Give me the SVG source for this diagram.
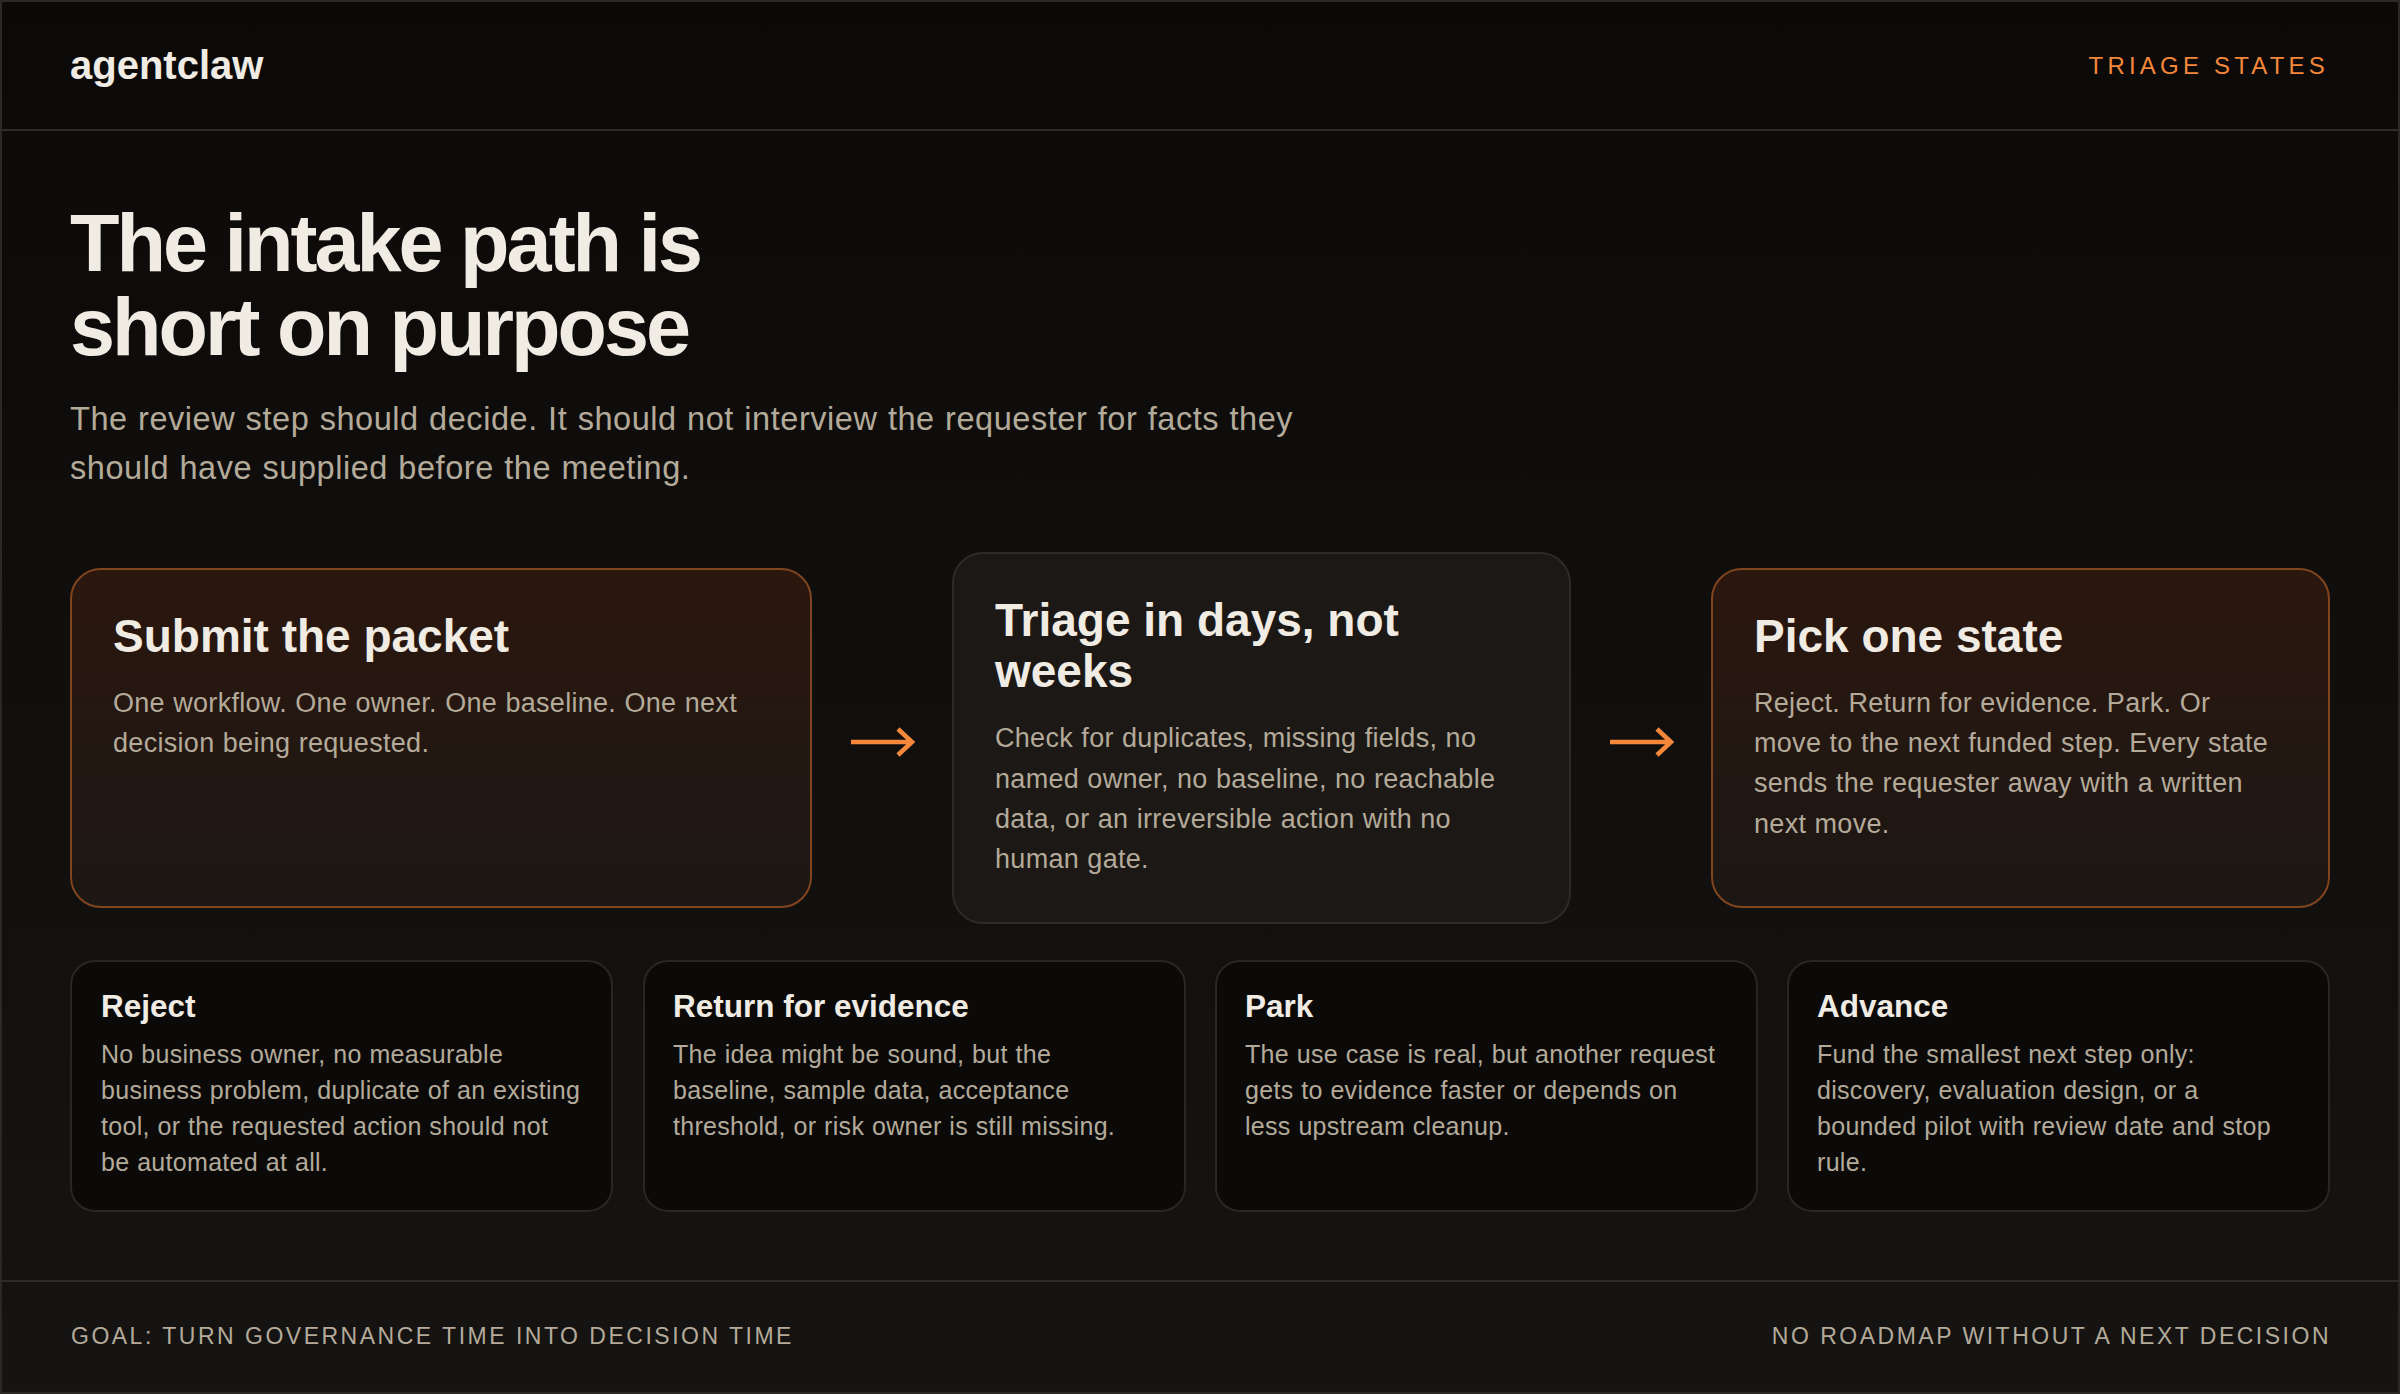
<svg xmlns="http://www.w3.org/2000/svg" width="2400" height="1394" viewBox="0 0 2400 1394">
  <defs>
    <linearGradient id="pageBg" x1="0" y1="0" x2="0" y2="1">
      <stop offset="0" stop-color="#0b0a09"/>
      <stop offset="1" stop-color="#151412"/>
    </linearGradient>
    <linearGradient id="warmCard" x1="0" y1="0" x2="0" y2="1">
      <stop offset="0" stop-color="#2b170e"/>
      <stop offset="1" stop-color="#1c1714"/>
    </linearGradient>
    <style>
      .logo { font-family: "Liberation Sans", Arial, sans-serif; font-weight: 700; font-size: 40px; fill: #f0ebe3; }
      .tag { font-family: "Liberation Sans", Arial, sans-serif; font-size: 24px; letter-spacing: 4.2px; fill: #f5873a; }
      .h1 { font-family: "Liberation Sans", Arial, sans-serif; font-weight: 700; font-size: 81px; letter-spacing: -3px; fill: #f0ebe3; }
      .lead { font-family: "Liberation Sans", Arial, sans-serif; font-size: 32.5px; letter-spacing: 0.55px; word-spacing: 0.8px; fill: #b4aa9a; }
      .ctitle { font-family: "Liberation Sans", Arial, sans-serif; font-weight: 700; font-size: 46px; fill: #f0ebe3; }
      .cbody { font-family: "Liberation Sans", Arial, sans-serif; font-size: 27px; letter-spacing: 0.3px; word-spacing: 0.5px; fill: #b4aa9a; }
      .stitle { font-family: "Liberation Sans", Arial, sans-serif; font-weight: 700; font-size: 31.5px; fill: #f0ebe3; }
      .sbody { font-family: "Liberation Sans", Arial, sans-serif; font-size: 25px; letter-spacing: 0.3px; word-spacing: 0.5px; fill: #b4aa9a; }
      .foot { font-family: "Liberation Sans", Arial, sans-serif; font-size: 23px; letter-spacing: 2.5px; fill: #b4aa9a; }
      .warm { fill: url(#warmCard); stroke: #80451f; stroke-width: 2; }
      .neutral { fill: #1c1815; stroke: #2e2a26; stroke-width: 2; }
      .state { fill: #0b0a09; stroke: #2a2722; stroke-width: 2; }
      .rule { stroke: #2e2c27; stroke-width: 2; }
      .arrow { fill: none; stroke: #f5873a; stroke-width: 4.5; stroke-linecap: butt; stroke-linejoin: miter; }
    </style>
  </defs>

  <rect x="0" y="0" width="2400" height="1394" fill="url(#pageBg)"/>
  <rect x="1" y="1" width="2398" height="1392" fill="none" stroke="#2b2924" stroke-width="2"/>

  <g id="header">
    <text class="logo" x="70" y="79">agentclaw</text>
    <text class="tag" x="2329" y="74" text-anchor="end">TRIAGE STATES</text>
    <line class="rule" x1="0" y1="130" x2="2400" y2="130"/>
  </g>

  <g id="intro">
    <text class="h1" x="70" y="271">The intake path is</text>
    <text class="h1" x="70" y="355">short on purpose</text>
    <text class="lead" x="70" y="430">The review step should decide. It should not interview the requester for facts they</text>
    <text class="lead" x="70" y="479">should have supplied before the meeting.</text>
  </g>

  <g id="node-submit">
    <rect class="warm" x="71" y="569" width="740" height="338" rx="30"/>
    <text class="ctitle" x="113" y="652">Submit the packet</text>
    <text class="cbody" x="113" y="712">One workflow. One owner. One baseline. One next</text>
    <text class="cbody" x="113" y="752">decision being requested.</text>
  </g>

  <g id="node-triage">
    <rect class="neutral" x="953" y="553" width="617" height="370" rx="30"/>
    <text class="ctitle" x="995" y="636">Triage in days, not</text>
    <text class="ctitle" x="995" y="687">weeks</text>
    <text class="cbody" x="995" y="747">Check for duplicates, missing fields, no</text>
    <text class="cbody" x="995" y="788">named owner, no baseline, no reachable</text>
    <text class="cbody" x="995" y="828">data, or an irreversible action with no</text>
    <text class="cbody" x="995" y="868">human gate.</text>
  </g>

  <g id="node-pick">
    <rect class="warm" x="1712" y="569" width="617" height="338" rx="30"/>
    <text class="ctitle" x="1754" y="652">Pick one state</text>
    <text class="cbody" x="1754" y="712">Reject. Return for evidence. Park. Or</text>
    <text class="cbody" x="1754" y="752">move to the next funded step. Every state</text>
    <text class="cbody" x="1754" y="792">sends the requester away with a written</text>
    <text class="cbody" x="1754" y="833">next move.</text>
  </g>

  <g id="connectors">
    <path class="arrow" d="M851 742 H911 M898 729 L912 742 L898 755"/>
    <path class="arrow" d="M1610 742 H1670 M1657 729 L1671 742 L1657 755"/>
  </g>

  <g id="state-reject">
    <rect class="state" x="71" y="961" width="541" height="250" rx="24"/>
    <text class="stitle" x="101" y="1017">Reject</text>
    <text class="sbody" x="101" y="1063">No business owner, no measurable</text>
    <text class="sbody" x="101" y="1099">business problem, duplicate of an existing</text>
    <text class="sbody" x="101" y="1135">tool, or the requested action should not</text>
    <text class="sbody" x="101" y="1171">be automated at all.</text>
  </g>

  <g id="state-return">
    <rect class="state" x="644" y="961" width="541" height="250" rx="24"/>
    <text class="stitle" x="673" y="1017">Return for evidence</text>
    <text class="sbody" x="673" y="1063">The idea might be sound, but the</text>
    <text class="sbody" x="673" y="1099">baseline, sample data, acceptance</text>
    <text class="sbody" x="673" y="1135">threshold, or risk owner is still missing.</text>
  </g>

  <g id="state-park">
    <rect class="state" x="1216" y="961" width="541" height="250" rx="24"/>
    <text class="stitle" x="1245" y="1017">Park</text>
    <text class="sbody" x="1245" y="1063">The use case is real, but another request</text>
    <text class="sbody" x="1245" y="1099">gets to evidence faster or depends on</text>
    <text class="sbody" x="1245" y="1135">less upstream cleanup.</text>
  </g>

  <g id="state-advance">
    <rect class="state" x="1788" y="961" width="541" height="250" rx="24"/>
    <text class="stitle" x="1817" y="1017">Advance</text>
    <text class="sbody" x="1817" y="1063">Fund the smallest next step only:</text>
    <text class="sbody" x="1817" y="1099">discovery, evaluation design, or a</text>
    <text class="sbody" x="1817" y="1135">bounded pilot with review date and stop</text>
    <text class="sbody" x="1817" y="1171">rule.</text>
  </g>

  <g id="footer">
    <line class="rule" x1="0" y1="1281" x2="2400" y2="1281"/>
    <text class="foot" x="71" y="1344">GOAL: TURN GOVERNANCE TIME INTO DECISION TIME</text>
    <text class="foot" x="2331" y="1344" text-anchor="end">NO ROADMAP WITHOUT A NEXT DECISION</text>
  </g>
</svg>
